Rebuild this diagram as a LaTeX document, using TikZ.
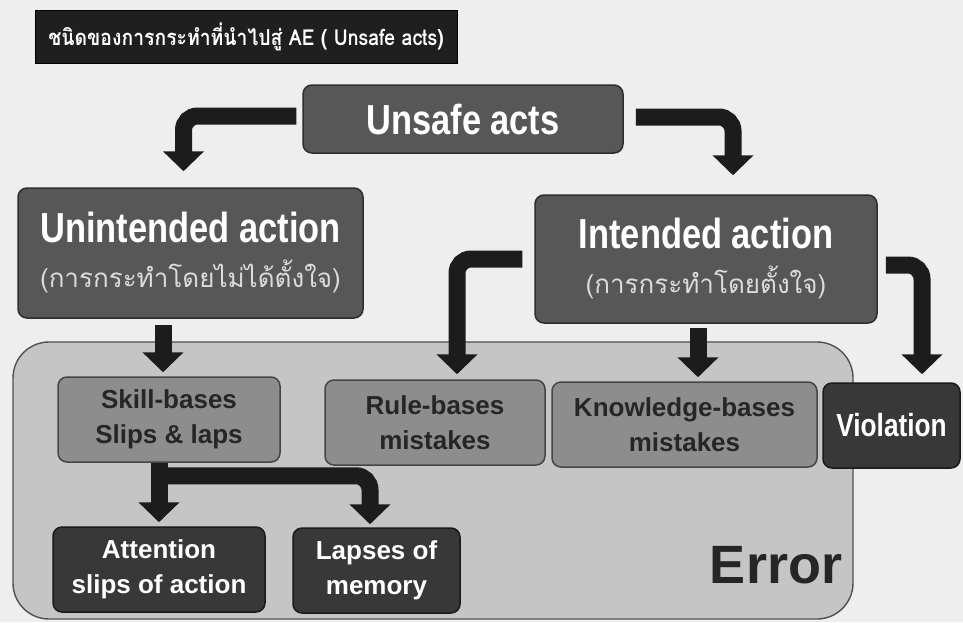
\documentclass[tikz,border=0pt]{standalone}
\usepackage{fontspec}
\setmainfont{Liberation Sans}
\newfontfamily\narrowsans[FakeStretch=0.82]{Liberation Sans}
\newfontfamily\thaifont[Script=Thai]{Loma}
\newfontfamily\thaititle[Script=Thai,FakeStretch=0.88]{Loma}
\usetikzlibrary{arrows.meta}
\definecolor{bgc}{HTML}{EEEEEE}
\definecolor{titlefill}{HTML}{1F1F1F}
\definecolor{l1fill}{HTML}{575757}
\definecolor{l1draw}{HTML}{2E2E2E}
\definecolor{errfill}{HTML}{C5C5C5}
\definecolor{errdraw}{HTML}{505050}
\definecolor{midfill}{HTML}{8D8D8D}
\definecolor{middraw}{HTML}{454545}
\definecolor{midtext}{HTML}{262626}
\definecolor{darkfill}{HTML}{383838}
\definecolor{darkdraw}{HTML}{1A1A1A}
\definecolor{arrowc}{HTML}{1C1C1C}
\definecolor{thaigray}{HTML}{DCDCDC}
\definecolor{errtext}{HTML}{262626}
\begin{document}
\begin{tikzpicture}[x=1pt,y=-1pt,
  basebox/.style={rounded corners=9pt, line width=1.5pt, inner sep=0pt, align=center},
  l1box/.style={basebox, fill=l1fill, draw=l1draw, text=white},
  midbox/.style={basebox, fill=midfill, draw=middraw, text=midtext, font=\bfseries\fontsize{26}{35}\selectfont},
  darkbox/.style={basebox, fill=darkfill, draw=darkdraw, text=white},
  titlebox/.style={fill=titlefill, draw=black, line width=1pt, inner sep=0pt, text=white},
  errorbox/.style={fill=errfill, draw=errdraw, line width=1.4pt, rounded corners=36pt, inner sep=0pt},
  bigtxt/.style={font=\narrowsans\bfseries\fontsize{42}{45}\selectfont},
  fat/.style={draw=arrowc, line width=17pt, rounded corners=14pt, -{Triangle[width=40pt,length=20pt]}},
]
\fill[bgc] (0,0) rectangle (963,622);
\useasboundingbox (0,0) rectangle (963,622);

% title
\node[titlebox, minimum width=422pt, minimum height=53pt] (title) at (246,36.5)
  {\thaititle\bfseries\fontsize{22}{24}\selectfont ชนิดของการกระทำที่นำไปสู่ AE ( Unsafe acts)};

% error zone
\node[errorbox, minimum width=840pt, minimum height=277pt] (errzone) at (433,480.5) {};
\node[font=\bfseries\fontsize{54}{54}\selectfont, text=errtext, anchor=base] (errlbl) at (776,583) {Error};

% level boxes
\node[l1box, bigtxt, minimum width=320pt, minimum height=68pt] (unsafe) at (463,119) {Unsafe acts};
\node[l1box, bigtxt, minimum width=345pt, minimum height=130pt] (unint) at (190.5,253)
  {Unintended action\\{\thaifont\mdseries\fontsize{26}{45}\selectfont\color{thaigray}(การกระทำโดยไม่ได้ตั้งใจ)}};
\node[l1box, bigtxt, minimum width=342pt, minimum height=128pt] (intend) at (706,259)
  {Intended action\\{\thaifont\mdseries\fontsize{26}{45}\selectfont\color{thaigray}(การกระทำโดยตั้งใจ)}};

\node[midbox, minimum width=222pt, minimum height=85pt] (skill) at (169,419.5) {Skill-bases\\Slips \& laps};
\node[midbox, minimum width=220pt, minimum height=85pt] (rule) at (435,422.5) {Rule-bases\\mistakes};
\node[midbox, minimum width=265pt, minimum height=85pt] (know) at (684.5,424.5) {Knowledge-bases\\mistakes};
\node[darkbox, minimum width=137pt, minimum height=85pt, font=\narrowsans\bfseries\fontsize{32}{35}\selectfont] (viol) at (891.5,425.5) {Violation};

\node[darkbox, minimum width=212pt, minimum height=85pt, font=\bfseries\fontsize{26}{35}\selectfont] (attn) at (159,569.5) {Attention\\slips of action};
\node[darkbox, minimum width=167pt, minimum height=85pt, font=\bfseries\fontsize{26}{35}\selectfont] (lapse) at (376.5,570.5) {Lapses of\\memory};

% arrows
\draw[fat, shorten <=6pt] ([yshift=3pt]unsafe.west) -| ([xshift=-7pt,yshift=16pt]unint.north);
\draw[fat, shorten <=12pt] ([yshift=2pt]unsafe.east) -| ([xshift=27pt,yshift=19pt]intend.north);
\draw[fat, shorten <=6pt, shorten >=4pt] ([xshift=-6pt]skill.north |- unint.south) -- ([xshift=-6pt]skill.north);
\draw[fat, shorten <=12pt, shorten >=5pt] (intend.west) -| ([xshift=22pt]rule.north);
\draw[fat, shorten <=4pt, shorten >=4pt] ([xshift=13.5pt]know.north |- intend.south) -- ([xshift=13.5pt]know.north);
\draw[fat, shorten <=8pt, shorten >=8pt] ([yshift=-6pt]intend.east) -| ([xshift=30.5pt]viol.north);
\draw[fat, shorten >=4pt] (attn.north |- skill.south) -- (attn.north);
\path (attn.north |- skill.south) ++(0,13) coordinate (split);
\draw[fat, shorten >=3pt] (split) -| ([xshift=-6.5pt]lapse.north);
\end{tikzpicture}
\end{document}
